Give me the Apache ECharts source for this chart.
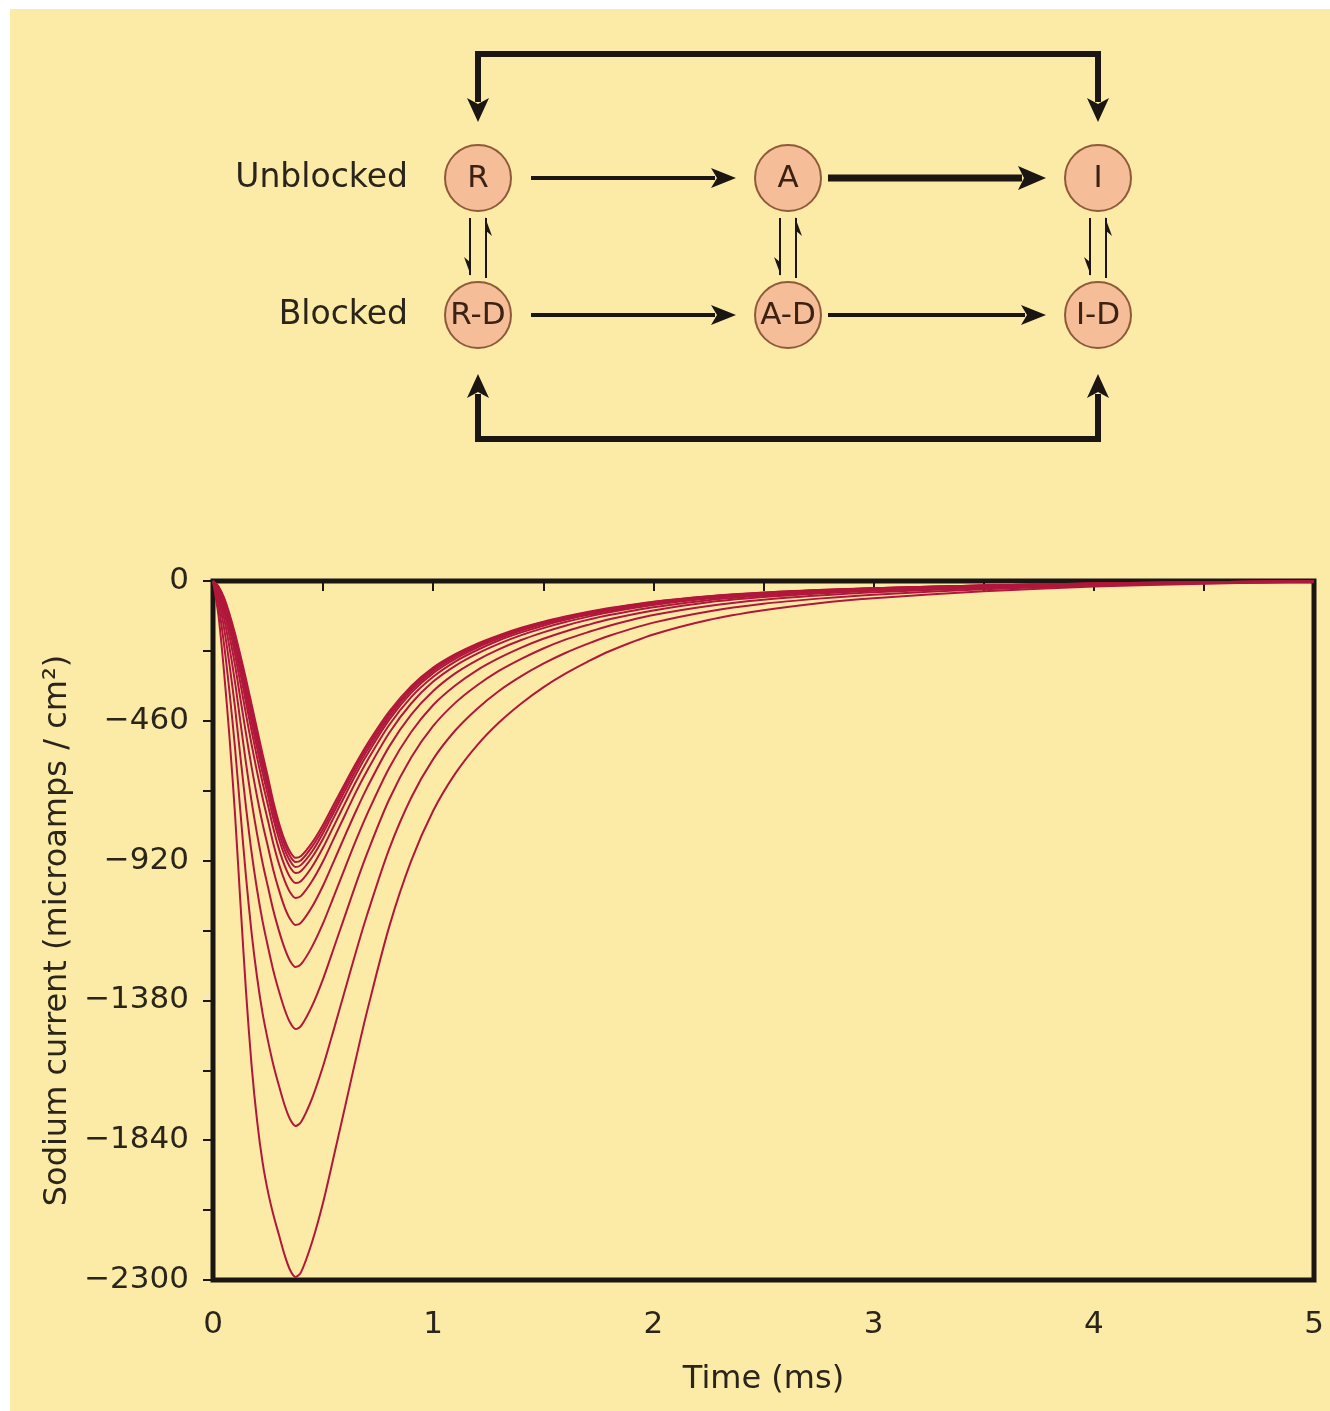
<!DOCTYPE html>
<html><head><meta charset="utf-8">
<script src="https://cdn.jsdelivr.net/npm/echarts@6/dist/echarts.min.js"></script>
<style>
html,body{margin:0;padding:0;background:#ffffff;}
#bg{position:absolute;left:10px;top:9px;width:1320px;height:1402px;background:#FCEBA6;}
#chart{position:absolute;left:0;top:0;width:1330px;height:1411px;}
</style></head><body>
<div id="bg"></div><div id="chart"></div>
<script>
// ---- Data: sodium current traces (microamps / cm^2) ----
const timeMs = [0, 0.025, 0.05, 0.075, 0.1, 0.125, 0.15, 0.175, 0.2, 0.225, 0.25, 0.275, 0.3, 0.325, 0.35, 0.375, 0.4, 0.45, 0.5, 0.55, 0.6, 0.65, 0.7, 0.8, 0.9, 1.0, 1.1, 1.2, 1.3, 1.4, 1.5, 1.6, 1.7, 1.8, 2.0, 2.25, 2.5, 2.75, 3.0, 3.5, 4.0, 4.5, 5.0];
const current01 = [0,-18,-55,-109,-173,-246,-323,-405,-487,-569,-647,-729,-797,-852,-891,-911,-905,-861,-802,-733,-665,-599,-537,-430,-346,-285,-241,-206,-178,-154,-134,-117,-102,-89,-68,-50,-38,-30,-24,-15,-8,-4,-1];
const current02 = [0,-20,-59,-116,-182,-259,-339,-423,-506,-588,-665,-745,-812,-866,-905,-925,-919,-874,-815,-746,-676,-609,-547,-438,-353,-290,-245,-210,-181,-157,-136,-119,-104,-91,-69,-51,-39,-30,-24,-15,-8,-4,-1];
const current03 = [0,-22,-63,-123,-192,-272,-356,-442,-526,-608,-684,-763,-830,-883,-921,-941,-934,-890,-829,-759,-689,-621,-558,-447,-360,-296,-250,-214,-184,-160,-139,-121,-106,-92,-71,-52,-40,-31,-24,-15,-8,-4,-1];
const current04 = [0,-24,-68,-130,-203,-288,-375,-464,-549,-631,-707,-785,-850,-903,-942,-961,-954,-909,-848,-776,-705,-635,-571,-457,-368,-303,-256,-219,-189,-163,-142,-124,-108,-95,-72,-53,-40,-32,-25,-15,-9,-4,-1];
const current05 = [0,-26,-74,-140,-218,-307,-400,-492,-580,-663,-739,-817,-883,-936,-975,-994,-987,-940,-877,-804,-731,-659,-592,-474,-382,-315,-265,-227,-195,-169,-147,-128,-112,-98,-75,-55,-42,-33,-26,-16,-9,-4,-1];
const current06 = [0,-30,-83,-156,-241,-339,-439,-537,-628,-713,-790,-867,-932,-985,-1024,-1043,-1036,-987,-922,-845,-769,-693,-624,-500,-403,-331,-279,-239,-206,-178,-155,-135,-118,-103,-79,-58,-44,-34,-27,-16,-9,-4,-1];
const current07 = [0,-36,-98,-181,-277,-390,-503,-611,-709,-798,-876,-954,-1018,-1073,-1112,-1132,-1124,-1072,-1002,-920,-837,-756,-680,-545,-440,-362,-304,-260,-224,-194,-169,-147,-128,-112,-86,-63,-48,-37,-29,-18,-10,-5,-1];
const current08 = [0,-44,-121,-219,-333,-467,-600,-724,-832,-927,-1008,-1087,-1152,-1208,-1250,-1270,-1261,-1203,-1126,-1035,-943,-852,-767,-615,-497,-408,-344,-293,-253,-219,-190,-166,-145,-126,-97,-70,-53,-41,-32,-20,-11,-5,-1];
const current09 = [0,-58,-154,-276,-417,-582,-745,-892,-1015,-1119,-1205,-1285,-1351,-1409,-1453,-1474,-1464,-1398,-1309,-1205,-1100,-995,-896,-719,-581,-477,-401,-343,-295,-256,-222,-193,-169,-147,-112,-82,-62,-48,-37,-23,-12,-6,-1];
const current10 = [0,-79,-208,-366,-549,-764,-974,-1156,-1303,-1422,-1514,-1595,-1662,-1724,-1771,-1793,-1780,-1702,-1596,-1472,-1345,-1218,-1098,-882,-713,-586,-492,-420,-361,-313,-272,-237,-207,-180,-137,-100,-75,-58,-45,-27,-15,-7,-2];
const current11 = [0,-114,-298,-515,-767,-1065,-1351,-1592,-1775,-1912,-2011,-2088,-2153,-2217,-2267,-2290,-2274,-2175,-2045,-1889,-1729,-1569,-1415,-1138,-921,-756,-634,-540,-465,-403,-350,-305,-266,-231,-176,-128,-96,-73,-57,-34,-18,-9,-2];
const currentTraces = [current01,current02,current03,current04,current05,current06,current07,current08,current09,current10,current11];

const xLabelStep = 1;      // ms between labelled ticks
const yLabelStep = 460;    // current between labelled ticks

// ---- Data: state diagram ----
const stateNodes  = ['R', 'A', 'I', 'R-D', 'A-D', 'I-D'];
const nodeColumn  = [0, 1, 2, 0, 1, 2];
const nodeRow     = [0, 0, 0, 1, 1, 1];
const rowLabels   = ['Unblocked', 'Blocked'];
const transitions = [['R', 'A'], ['A', 'I'], ['R-D', 'A-D'], ['A-D', 'I-D']];
const bindings    = [['R', 'R-D'], ['A', 'A-D'], ['I', 'I-D']];
const recoveries  = [['R', 'I'], ['R-D', 'I-D']];

// ---- Styles ----
const FONT = 'DejaVu Sans';
const TXT = '#2a251b';
const INK = '#1b1612';
const thickTransition = {'A>I': true};

function nodeIdx(n){ return stateNodes.indexOf(n); }
function nodePair(a, b){ const i = nodeIdx(a), j = nodeIdx(b); return [nodeColumn[i], nodeRow[i], nodeColumn[j], nodeRow[j]]; }

const chart = echarts.init(document.getElementById('chart'), null, {renderer: 'canvas'});

const lineSeries = currentTraces.map((arr) => ({
  type: 'line', xAxisIndex: 0, yAxisIndex: 0,
  data: timeMs.map((t, i) => [t, arr[i]]),
  showSymbol: false, symbol: 'none', smooth: 0.3,
  lineStyle: {color: '#b1173b', width: 2},
  emphasis: {disabled: true}, silent: true, z: 5
}));

const nodeSeries = {
  type: 'custom', coordinateSystem: 'cartesian2d', xAxisIndex: 1, yAxisIndex: 1,
  clip: false, silent: true, z: 10,
  data: stateNodes.map((n, i) => [nodeColumn[i], nodeRow[i]]),
  encode: {x: 0, y: 1},
  renderItem: function (params, api) {
    const p = api.coord([api.value(0), api.value(1)]);
    return {type: 'group', children: [
      {type: 'circle', shape: {cx: p[0], cy: p[1], r: 33},
       style: {fill: '#F5BE98', stroke: '#8E5A39', lineWidth: 2}},
      {type: 'text', style: {text: stateNodes[params.dataIndex], x: p[0], y: p[1] + 1,
        align: 'center', verticalAlign: 'middle', textAlign: 'center', textVerticalAlign: 'middle',
        fontSize: 31, fontFamily: FONT, fill: '#3b2214'}}
    ]};
  }
};

const rowLabelSeries = {
  type: 'custom', coordinateSystem: 'cartesian2d', xAxisIndex: 1, yAxisIndex: 1,
  clip: false, silent: true, z: 10,
  data: rowLabels.map((l, r) => [0, r]),
  encode: {x: 0, y: 1},
  renderItem: function (params, api) {
    const p = api.coord([api.value(0), api.value(1)]);
    return {type: 'text', style: {text: rowLabels[params.dataIndex], x: p[0] - 70, y: p[1],
      align: 'right', verticalAlign: 'middle', textAlign: 'right', textVerticalAlign: 'middle',
      fontSize: 33, fontFamily: FONT, fill: TXT}};
  }
};

const transitionSeries = {
  type: 'custom', coordinateSystem: 'cartesian2d', xAxisIndex: 1, yAxisIndex: 1,
  clip: false, silent: true, z: 10,
  data: transitions.map(([a, b]) => nodePair(a, b)),
  encode: {x: [0, 2], y: [1, 3]},
  renderItem: function (params, api) {
    const t = transitions[params.dataIndex];
    const thick = !!thickTransition[t[0] + '>' + t[1]];
    const p1 = api.coord([api.value(0), api.value(1)]);
    const p2 = api.coord([api.value(2), api.value(3)]);
    const y = p1[1];
    const x1 = p1[0] + (api.value(0) === 0 ? 53 : 40);
    const tip = p2[0] - 52;
    const hl = thick ? 28 : 25, hw = thick ? 12 : 10, w = thick ? 7 : 4;
    return {type: 'group', children: [
      {type: 'line', shape: {x1: x1, y1: y, x2: tip - hl + 4, y2: y}, style: {stroke: INK, lineWidth: w}},
      {type: 'polygon', shape: {points: [[tip, y], [tip - hl, y - hw], [tip - hl + 6, y], [tip - hl, y + hw]]},
       style: {fill: INK}}
    ]};
  }
};

const bindingSeries = {
  type: 'custom', coordinateSystem: 'cartesian2d', xAxisIndex: 1, yAxisIndex: 1,
  clip: false, silent: true, z: 10,
  data: bindings.map(([a, b]) => nodePair(a, b)),
  encode: {x: [0, 2], y: [1, 3]},
  renderItem: function (params, api) {
    const p1 = api.coord([api.value(0), api.value(1)]);
    const p2 = api.coord([api.value(2), api.value(3)]);
    const xl = p1[0] - 8, xr = p1[0] + 8;
    const yTop = p1[1] + 40, yBot = p2[1] - 40;
    return {type: 'group', children: [
      {type: 'line', shape: {x1: xl, y1: yTop, x2: xl, y2: yBot}, style: {stroke: INK, lineWidth: 2}},
      {type: 'polygon', shape: {points: [[xl + 1, yBot + 1], [xl - 6, yBot - 18], [xl + 1, yBot - 12]]}, style: {fill: INK}},
      {type: 'line', shape: {x1: xr, y1: yBot + 3, x2: xr, y2: yTop}, style: {stroke: INK, lineWidth: 2}},
      {type: 'polygon', shape: {points: [[xr - 1, yTop - 1], [xr + 6, yTop + 18], [xr - 1, yTop + 12]]}, style: {fill: INK}}
    ]};
  }
};

const recoverySeries = {
  type: 'custom', coordinateSystem: 'cartesian2d', xAxisIndex: 1, yAxisIndex: 1,
  clip: false, silent: true, z: 10,
  data: recoveries.map(([a, b]) => nodePair(a, b)),
  encode: {x: [0, 2], y: [1, 3]},
  renderItem: function (params, api) {
    const row = api.value(1);
    const dir = row === 0 ? -1 : 1;
    const p1 = api.coord([api.value(0), row]);
    const p2 = api.coord([api.value(2), api.value(3)]);
    const lineY = p1[1] + dir * 124;
    const tipY = p1[1] + dir * (row === 0 ? 56 : 59);
    const hl = 24, hw = 11;
    const baseY = tipY + dir * (hl - 4);
    function head(x) {
      return {type: 'polygon', shape: {points: [[x, tipY], [x - hw, tipY + dir * hl], [x, tipY + dir * (hl - 6)], [x + hw, tipY + dir * hl]]},
        style: {fill: INK}};
    }
    return {type: 'group', children: [
      {type: 'polyline', shape: {points: [[p1[0], baseY], [p1[0], lineY], [p2[0], lineY], [p2[0], baseY]]},
       style: {stroke: INK, lineWidth: 6, fill: null, lineJoin: 'miter'}},
      head(p1[0]), head(p2[0])
    ]};
  }
};

const option = {
  animation: false,
  backgroundColor: 'transparent',
  grid: [
    {left: 213, top: 581, width: 1101, height: 699, show: true, borderWidth: 5, borderColor: INK,
     backgroundColor: 'transparent', containLabel: false, outerBoundsMode: 'none'},
    {left: 478, top: 178, width: 620, height: 137, show: false, containLabel: false, outerBoundsMode: 'none'}
  ],
  xAxis: [
    {type: 'value', gridIndex: 0, min: 0, max: 5, interval: 0.5,
     name: 'Time (ms)', nameLocation: 'middle', nameGap: 84,
     nameTextStyle: {fontSize: 32, fontFamily: FONT, color: TXT},
     axisLine: {show: false},
     axisTick: {show: true, inside: false, length: 10, lineStyle: {color: INK, width: 2}},
     axisLabel: {show: true, fontSize: 31, fontFamily: FONT, color: TXT, margin: 29,
       formatter: v => (Math.abs(v / xLabelStep - Math.round(v / xLabelStep)) < 1e-6 ? String(Math.round(v)) : '')},
     splitLine: {show: false}},
    {type: 'value', gridIndex: 1, min: 0, max: 2, show: false}
  ],
  yAxis: [
    {type: 'value', gridIndex: 0, min: -2300, max: 0, interval: 230,
     name: 'Sodium current (microamps / cm²)', nameLocation: 'middle', nameGap: 134,
     nameTextStyle: {fontSize: 32, fontFamily: FONT, color: TXT},
     axisLine: {show: false},
     axisTick: {show: true, inside: false, length: 10, lineStyle: {color: INK, width: 2}},
     axisLabel: {show: true, fontSize: 31, fontFamily: FONT, color: TXT, margin: 24,
       formatter: v => (Math.round(v) % yLabelStep === 0 ? (v === 0 ? '0' : '\u2212' + Math.abs(Math.round(v))) : '')},
     splitLine: {show: false}},
    {type: 'value', gridIndex: 1, min: 0, max: 1, inverse: true, show: false}
  ],
  series: lineSeries.concat([recoverySeries, transitionSeries, bindingSeries, nodeSeries, rowLabelSeries])
};
chart.setOption(option);
</script>
</body></html>
